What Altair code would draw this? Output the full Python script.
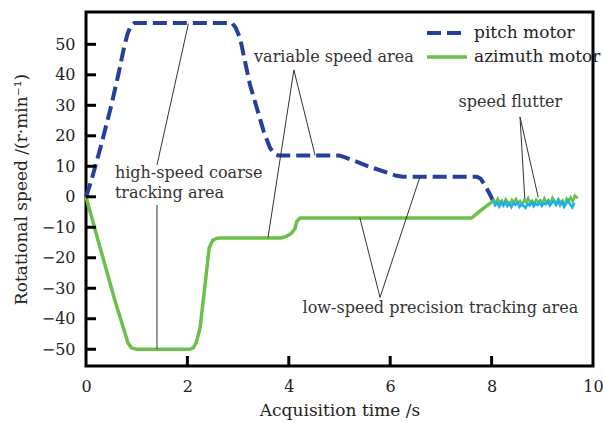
import altair as alt
import pandas as pd

FONT = "DejaVu Serif"
PLOT_W, PLOT_H = 507, 354

# ---- motor speed traces (time in s, speed in r/min) ----
pitch_t = [0.0, 0.1, 0.3, 0.5, 0.65, 0.75, 0.82, 0.88, 0.95, 2.88, 2.95, 3.04, 3.23, 3.5, 3.63,
           3.72, 3.8, 5.0, 5.1, 5.6, 6.1, 6.25, 7.7, 7.78, 7.88, 7.96, 8.03]
pitch_v = [0.0, 5.0, 17.0, 30.0, 41.0, 49.0, 53.5, 56.0, 57.0, 57.0, 55.5, 52.0, 37.0, 21.7, 16.0,
           14.0, 13.5, 13.5, 13.0, 9.8, 7.0, 6.6, 6.6, 6.0, 3.5, 1.0, -1.3]

azim_t = [0.0, 0.2, 0.57, 0.83, 0.9, 1.0, 2.05, 2.12, 2.18, 2.25, 2.35, 2.43, 2.5, 2.58, 2.7,
          3.85, 3.95, 4.05, 4.12, 4.16, 4.22, 7.6, 7.8, 8.0]
azim_v = [0.0, -12.0, -34.0, -48.0, -49.6, -50.0, -50.0, -49.5, -47.5, -43.0, -28.6, -16.7, -14.3,
          -13.6, -13.5, -13.5, -13.0, -12.0, -10.5, -8.0, -7.0, -7.0, -4.3, -1.8]

# speed flutter after 8 s
pitch_fl_t = [8.03, 8.07, 8.11, 8.15, 8.19, 8.23, 8.27, 8.31, 8.35, 8.39, 8.43, 8.47, 8.51, 8.55,
              8.59, 8.63, 8.67, 8.71, 8.75, 8.79, 8.83, 8.87, 8.91, 8.95, 8.99, 9.03, 9.07, 9.11,
              9.15, 9.19, 9.23, 9.27, 9.31, 9.35, 9.39, 9.43, 9.47, 9.51, 9.55, 9.59, 9.63]
pitch_fl_v = [-1.3, -2.8, -1.9, -3.2, -2.0, -2.9, -1.6, -3.0, -2.2, -3.4, -2.1, -2.6, -1.8, -3.3,
              -2.4, -2.9, -3.6, -2.3, -2.8, -1.7, -3.1, -2.2, -2.7, -1.9, -3.0, -2.1, -2.5, -1.5,
              -2.9, -2.0, -1.4, -2.6, -1.1, -2.8, -1.8, -3.3, -2.2, -1.2, -2.5, -3.5, -2.0]

azim_fl_t = [8.0, 8.04, 8.08, 8.12, 8.16, 8.2, 8.24, 8.28, 8.32, 8.36, 8.4, 8.44, 8.48, 8.52,
             8.56, 8.6, 8.64, 8.68, 8.72, 8.76, 8.8, 8.84, 8.88, 8.92, 8.96, 9.0, 9.04, 9.08,
             9.12, 9.16, 9.2, 9.24, 9.28, 9.32, 9.36, 9.4, 9.44, 9.48, 9.52, 9.56, 9.6, 9.64,
             9.7]
azim_fl_v = [-1.8, -0.9, -2.2, -0.6, -1.9, -1.2, -2.4, -0.8, -1.6, -2.5, -1.0, -1.9, -0.7, -2.1,
             -1.4, -2.6, -1.1, -1.8, -0.4, -2.0, -1.3, -2.3, -0.9, -1.7, -1.1, -2.2, -0.5, -1.8,
             -1.0, -2.1, -0.3, -1.5, -2.4, -0.8, -1.9, -1.2, -2.7, -0.6, -1.4, -0.2, -1.6, 0.4,
             -0.5]

series_names = ["pitch motor", "azimuth motor"]
series_colors = ["#24409c", "#6cc04a"]
series_dash = [[14, 6], [1, 0]]
series_width = [4, 3.5]
flutter_color = "#1bb0e6"

x_ticks = [0, 2, 4, 6, 8, 10]
y_ticks = [-50, -40, -30, -20, -10, 0, 10, 20, 30, 40, 50]

# ---- annotations ----
left_text = ["high-speed coarse", "tracking area"]
left_t = [0.57, 0.57]
left_v = [7.8, 1.2]

center_text = ["variable speed area", "speed flutter", "low-speed precision tracking area"]
center_t = [4.89, 8.37, 6.99]
center_v = [45.8, 31.1, -36.5]

lead_t1 = [2.02, 1.40, 4.10, 4.10, 5.80, 5.80, 8.56, 8.56]
lead_v1 = [56.8, -2.7, 41.6, 41.6, -33.0, -33.0, 26.2, 26.2]
lead_t2 = [1.40, 1.40, 4.52, 3.59, 5.40, 6.59, 8.66, 8.92]
lead_v2 = [10.4, -50.0, 13.5, -13.4, -6.8, 6.7, -2.1, -0.2]

main = pd.concat([
    pd.DataFrame({"t": pitch_t, "v": pitch_v, "series": series_names[0]}),
    pd.DataFrame({"t": azim_t, "v": azim_v, "series": series_names[1]}),
])
pitch_fl = pd.DataFrame({"t": pitch_fl_t, "v": pitch_fl_v})
azim_fl = pd.DataFrame({"t": azim_fl_t, "v": azim_fl_v})
notes_left = pd.DataFrame({"text": left_text, "t": left_t, "v": left_v})
notes_center = pd.DataFrame({"text": center_text, "t": center_t, "v": center_v})
leads = pd.DataFrame({"t1": lead_t1, "v1": lead_v1, "t2": lead_t2, "v2": lead_v2})
xt = pd.DataFrame({"t": x_ticks[1:-1]})
yt = pd.DataFrame({"v": y_ticks})

x_scale = alt.Scale(domain=[0, 10], nice=False)
y_scale = alt.Scale(domain=[-55.5, 60.6], nice=False)

x_axis = alt.Axis(values=x_ticks, title="Acquisition time /s", ticks=False, tickSize=0,
                  domain=False, grid=False, labelPadding=12, titlePadding=8,
                  labelFlush=False, labelOverlap=False)
y_axis = alt.Axis(values=y_ticks, title="Rotational speed /(r\u00b7min\u207b\u00b9)",
                  ticks=False, tickSize=0, domain=False, grid=False, labelPadding=11,
                  titlePadding=11, titleY=PLOT_H / 2, titleAlign="center",
                  labelFlush=False, labelOverlap=False)

# every layer carries the same axis definition so the merged axes agree
X = alt.X("t:Q", scale=x_scale, axis=x_axis)
Y = alt.Y("v:Q", scale=y_scale, axis=y_axis)

legend = alt.Legend(title=None, orient="none", legendX=339, legendY=11, symbolType="stroke",
                    symbolSize=1600, symbolStrokeWidth=4, labelFont=FONT, labelFontSize=17,
                    labelColor="#222222", rowPadding=4, labelOffset=5, clipHeight=20)

lines = alt.Chart(main).mark_line(strokeCap="butt", strokeJoin="round").encode(
    x=X,
    y=Y,
    color=alt.Color("series:N", scale=alt.Scale(domain=series_names, range=series_colors),
                    legend=legend),
    strokeDash=alt.StrokeDash("series:N", scale=alt.Scale(domain=series_names, range=series_dash),
                              legend=legend),
    strokeWidth=alt.StrokeWidth("series:N",
                                scale=alt.Scale(domain=series_names, range=series_width),
                                legend=None),
    order="t:Q",
)

azim_flutter = alt.Chart(azim_fl).mark_line(color=series_colors[1], strokeWidth=2.5).encode(
    x=X, y=Y, order="t:Q")
pitch_flutter = alt.Chart(pitch_fl).mark_line(color=flutter_color, strokeWidth=2.5).encode(
    x=X, y=Y, order="t:Q")

# inward tick marks along the left and bottom frame
y_tick_marks = alt.Chart(yt).mark_rule(color="black", strokeWidth=3).encode(
    y=Y, x=alt.value(0), x2=alt.value(10))
x_tick_marks = alt.Chart(xt).mark_rule(color="black", strokeWidth=3).encode(
    x=X, y=alt.value(PLOT_H), y2=alt.value(PLOT_H - 10))

leaders = alt.Chart(leads).mark_rule(color="#333333", strokeWidth=1).encode(
    x=alt.X("t1:Q", scale=x_scale, axis=x_axis), y=alt.Y("v1:Q", scale=y_scale, axis=y_axis),
    x2="t2:Q", y2="v2:Q")

text_style = dict(font=FONT, fontSize=16, color="#333333", baseline="middle")
labels_left = alt.Chart(notes_left).mark_text(align="left", **text_style).encode(
    x=X, y=Y, text="text:N")
labels_center = alt.Chart(notes_center).mark_text(align="center", **text_style).encode(
    x=X, y=Y, text="text:N")

chart = alt.layer(
    lines, leaders, y_tick_marks, x_tick_marks, azim_flutter, pitch_flutter,
    labels_left, labels_center,
).properties(
    width=PLOT_W, height=PLOT_H,
    autosize=alt.AutoSizeParams(type="none"),
    padding={"left": 86, "top": 12, "right": 10, "bottom": 57},
).configure_view(
    stroke="black", strokeWidth=3
).configure_axis(
    labelFont=FONT, labelFontSize=16, labelColor="#222222",
    titleFont=FONT, titleFontSize=17, titleFontWeight="normal", titleColor="#222222",
)

chart.save("out.html", embed_options={"renderer": "svg", "actions": False})
